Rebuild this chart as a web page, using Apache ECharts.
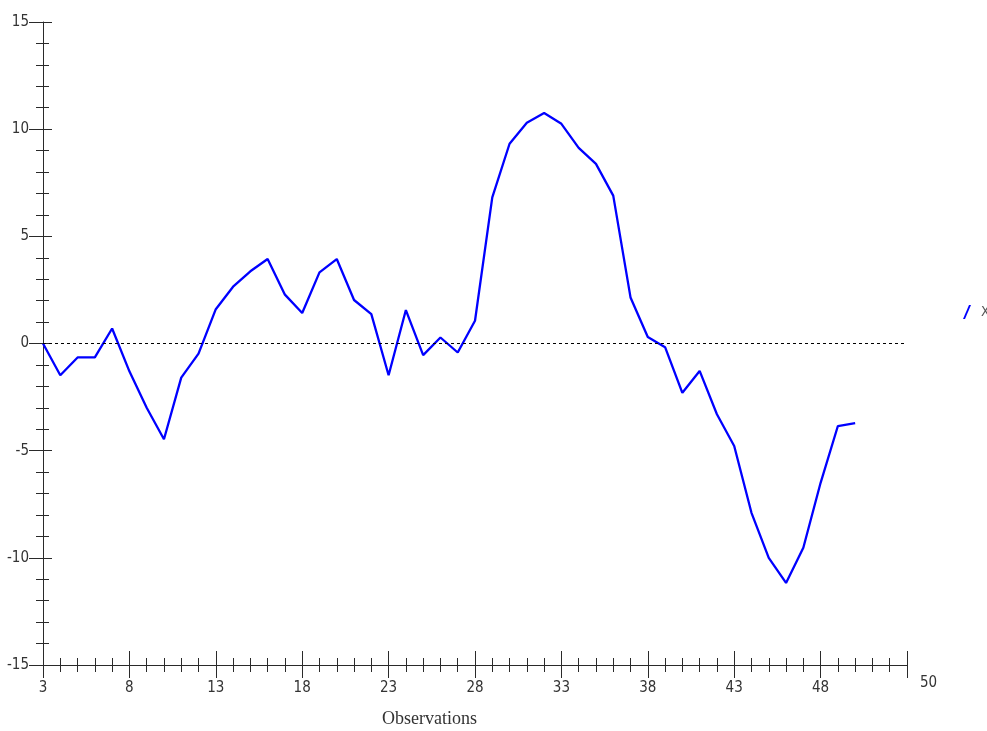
<!DOCTYPE html>
<html>
<head>
<meta charset="utf-8">
<script src="https://cdn.jsdelivr.net/npm/echarts@6/dist/echarts.min.js"></script>
<style>html,body{margin:0;padding:0;background:#fff;}#c{width:987px;height:731px;}</style>
</head>
<body>
<div id="c"></div>
<script>
const observations = [3,4,5,6,7,8,9,10,11,12,13,14,15,16,17,18,19,20,21,22,23,24,25,26,27,28,29,30,31,32,33,34,35,36,37,38,39,40,41,42,43,44,45,46,47,48,49,50];
const xValues = [0,-1.48,-0.65,-0.65,0.7,-1.3,-3.0,-4.47,-1.59,-0.47,1.6,2.65,3.37,3.94,2.28,1.42,3.32,3.94,2.03,1.37,-1.48,1.56,-0.54,0.28,-0.42,1.06,6.82,9.32,10.3,10.75,10.25,9.13,8.38,6.9,2.15,0.3,-0.17,-2.3,-1.28,-3.3,-4.78,-7.9,-10.0,-11.17,-9.53,-6.5,-3.85,-3.72];
const seriesName = 'X';
const xTitle = 'Observations';
const xEndLabel = '50';
const yTicks = [-15,-10,-5,0,5,10,15];
const xTicks = [3,8,13,18,23,28,33,38,43,48];

const chart = echarts.init(document.getElementById('c'), null, {renderer:'canvas'});
const axisColor = '#2a2a2a';
const numFont = '"Liberation Sans Narrow", "DejaVu Sans Condensed", "Liberation Sans"';
const labelFont = {color:'#333', fontFamily:numFont, fontSize:15};
const xBase = {
  type:'value', min:3, max:53, interval:5, position:'bottom',
  splitLine:{show:false},
  axisLine:{show:true, onZero:false, lineStyle:{color:axisColor, width:1}},
};
const yBase = {
  type:'value', min:-15, max:15, interval:5, position:'left',
  splitLine:{show:false},
  axisLine:{show:true, onZero:false, lineStyle:{color:axisColor, width:1}},
};
chart.setOption({
  animation:false,
  backgroundColor:'#fff',
  grid:{left:43, right:80, top:22, bottom:66, containLabel:false},
  legend:{
    data:[{name:seriesName, icon:'path://M0,14 L2,14 L8,0 L6,0 Z'}],
    left:958, top:300, itemWidth:8, itemHeight:14, itemGap:0,
    textStyle:{color:'#555', fontFamily:numFont, fontSize:14, padding:[0,0,0,5]}
  },
  xAxis:[
    Object.assign({}, xBase, {
      axisTick:{show:true, inside:false, length:13, lineStyle:{color:axisColor}},
      minorTick:{show:true, splitNumber:5, length:7, lineStyle:{color:axisColor}},
      axisLabel:{show:true, margin:16, ...labelFont,
        formatter:v => xTicks.includes(v) ? String(v) : ''}
    }),
    Object.assign({}, xBase, {
      axisLine:{show:false, onZero:false},
      axisTick:{show:true, inside:true, length:14, lineStyle:{color:axisColor}},
      minorTick:{show:true, splitNumber:5, length:7, lineStyle:{color:axisColor}},
      axisLabel:{show:false}
    })
  ],
  yAxis:[
    Object.assign({}, yBase, {
      axisTick:{show:true, inside:false, length:14, lineStyle:{color:axisColor}},
      minorTick:{show:true, splitNumber:5, length:7, lineStyle:{color:axisColor}},
      axisLabel:{show:true, margin:14, ...labelFont,
        formatter:v => yTicks.includes(v) ? String(v) : ''}
    }),
    Object.assign({}, yBase, {
      axisLine:{show:false, onZero:false},
      axisTick:{show:true, inside:true, length:9, lineStyle:{color:axisColor}},
      minorTick:{show:true, splitNumber:5, length:6, lineStyle:{color:axisColor}},
      axisLabel:{show:false}
    })
  ],
  graphic:[
    {type:'text', left:382, top:710, style:{text:xTitle, fill:'#333', font:'18px "Liberation Serif"'}},
    {type:'text', left:920, top:676, style:{text:xEndLabel, fill:'#333', font:'15px ' + numFont}}
  ],
  series:[{
    name:seriesName, type:'line', xAxisIndex:0, yAxisIndex:0,
    data:observations.map((o,i)=>[o, xValues[i]]),
    showSymbol:false, symbol:'none',
    lineStyle:{color:'#0000ff', width:2.3},
    itemStyle:{color:'#0000ff'},
    markLine:{
      silent:true, symbol:'none', label:{show:false},
      lineStyle:{color:'#000', type:[3,3], width:1},
      data:[{yAxis:0}]
    }
  }]
});
</script>
</body>
</html>
